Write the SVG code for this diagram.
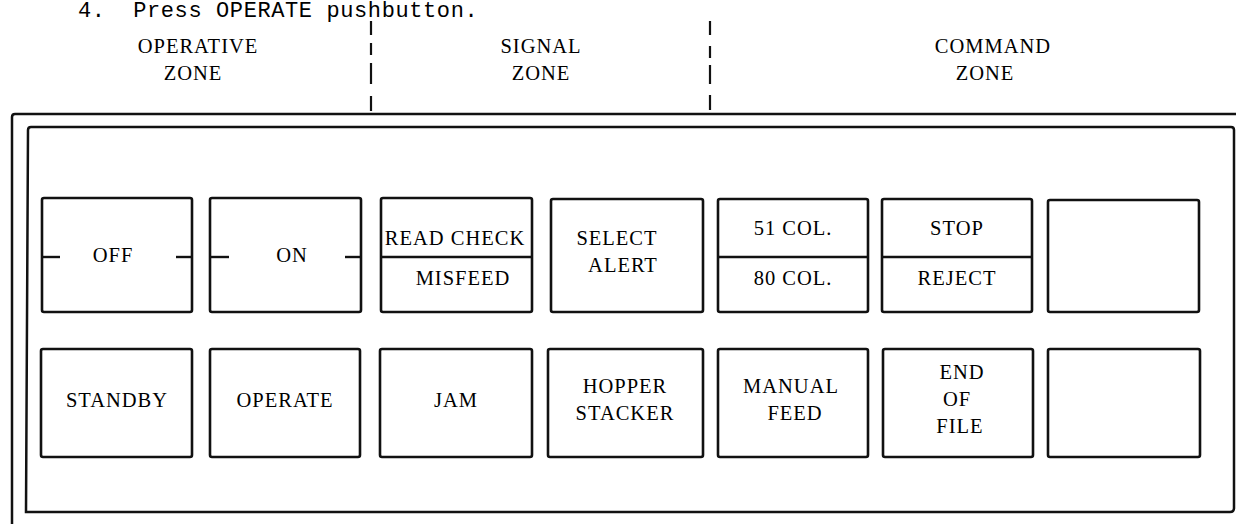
<svg xmlns="http://www.w3.org/2000/svg" width="1236" height="524" viewBox="0 0 1236 524">
<style>
  text { font-family: "Liberation Serif", "DejaVu Serif", serif; font-size: 20.5px; fill: #000; letter-spacing: 1px; text-anchor: middle; }
  .hdr { font-family: "Liberation Mono", monospace; font-size: 22px; text-anchor: start; letter-spacing: 0.6px; }
  .frame { fill: none; stroke: #111; stroke-width: 2.5; }
  .btn { fill: #fff; stroke: #111; stroke-width: 2.6; }
  .ln { stroke: #111; stroke-width: 2.4; fill: none; }
  .dash { stroke: #111; stroke-width: 2.2; }
</style>
<rect width="1236" height="524" fill="#fff"/>
<text class="hdr" x="78" y="17" xml:space="preserve">4.  Press OPERATE pushbutton.</text>

<g id="zone-dividers">
  <line class="dash" x1="371" y1="21" x2="371" y2="35"/>
  <line class="dash" x1="371" y1="43" x2="371" y2="55"/>
  <line class="dash" x1="371" y1="63" x2="371" y2="84"/>
  <line class="dash" x1="371" y1="96" x2="371" y2="111"/>
  <line class="dash" x1="710" y1="21" x2="710" y2="35"/>
  <line class="dash" x1="710" y1="46" x2="710" y2="58"/>
  <line class="dash" x1="710" y1="65" x2="710" y2="84"/>
  <line class="dash" x1="710" y1="95" x2="710" y2="110"/>
</g>

<g id="zone-labels">
  <text x="198" y="53">OPERATIVE</text>
  <text x="193" y="80">ZONE</text>
  <text x="541" y="53">SIGNAL</text>
  <text x="541" y="80">ZONE</text>
  <text x="993" y="53">COMMAND</text>
  <text x="985" y="80">ZONE</text>
</g>

<g id="panel">
  <path class="frame" d="M12,524 V117 Q12,114 15,114 H1236"/>
  <path class="frame" d="M26,512 L28,130 Q28,127 31,127 H1231 Q1234,127 1234,130 V508 Q1234,512 1230,512 Z"/>
</g>

<g id="btn-off">
  <rect class="btn" x="42" y="198" width="150" height="114" rx="2"/>
  <line class="ln" x1="42" y1="257" x2="60" y2="257"/>
  <line class="ln" x1="176" y1="257" x2="192" y2="257"/>
  <text x="113" y="262">OFF</text>
</g>
<g id="btn-on">
  <rect class="btn" x="210" y="198" width="151" height="114" rx="2"/>
  <line class="ln" x1="210" y1="257" x2="229" y2="257"/>
  <line class="ln" x1="345" y1="257" x2="361" y2="257"/>
  <text x="292" y="262">ON</text>
</g>
<g id="btn-readcheck">
  <rect class="btn" x="381" y="198" width="151" height="114" rx="2"/>
  <line class="ln" x1="381" y1="257" x2="532" y2="257"/>
  <text x="455" y="245">READ CHECK</text>
  <text x="463" y="285">MISFEED</text>
</g>
<g id="btn-selectalert">
  <rect class="btn" x="551" y="199" width="152" height="113" rx="2"/>
  <text x="617" y="245">SELECT</text>
  <text x="623" y="272">ALERT</text>
</g>
<g id="btn-col">
  <rect class="btn" x="718" y="199" width="150" height="113" rx="2"/>
  <line class="ln" x1="718" y1="257" x2="868" y2="257"/>
  <text x="793" y="235">51 COL.</text>
  <text x="793" y="285">80 COL.</text>
</g>
<g id="btn-stop">
  <rect class="btn" x="882" y="199" width="150" height="113" rx="2"/>
  <line class="ln" x1="882" y1="257" x2="1032" y2="257"/>
  <text x="957" y="235">STOP</text>
  <text x="957" y="285">REJECT</text>
</g>
<g id="btn-blank1">
  <rect class="btn" x="1048" y="200" width="151" height="112" rx="2"/>
</g>

<g id="btn-standby">
  <rect class="btn" x="41" y="349" width="151" height="108" rx="2"/>
  <text x="117" y="407">STANDBY</text>
</g>
<g id="btn-operate">
  <rect class="btn" x="210" y="349" width="150" height="108" rx="2"/>
  <text x="285" y="407">OPERATE</text>
</g>
<g id="btn-jam">
  <rect class="btn" x="380" y="349" width="152" height="108" rx="2"/>
  <text x="456" y="407">JAM</text>
</g>
<g id="btn-hopper">
  <rect class="btn" x="548" y="349" width="155" height="108" rx="2"/>
  <text x="625" y="393">HOPPER</text>
  <text x="625" y="420">STACKER</text>
</g>
<g id="btn-manual">
  <rect class="btn" x="718" y="349" width="150" height="108" rx="2"/>
  <text x="791" y="393">MANUAL</text>
  <text x="795" y="420">FEED</text>
</g>
<g id="btn-eof">
  <rect class="btn" x="883" y="349" width="150" height="108" rx="2"/>
  <text x="962" y="379">END</text>
  <text x="957" y="406">OF</text>
  <text x="960" y="433">FILE</text>
</g>
<g id="btn-blank2">
  <rect class="btn" x="1048" y="349" width="152" height="108" rx="2"/>
</g>
</svg>
